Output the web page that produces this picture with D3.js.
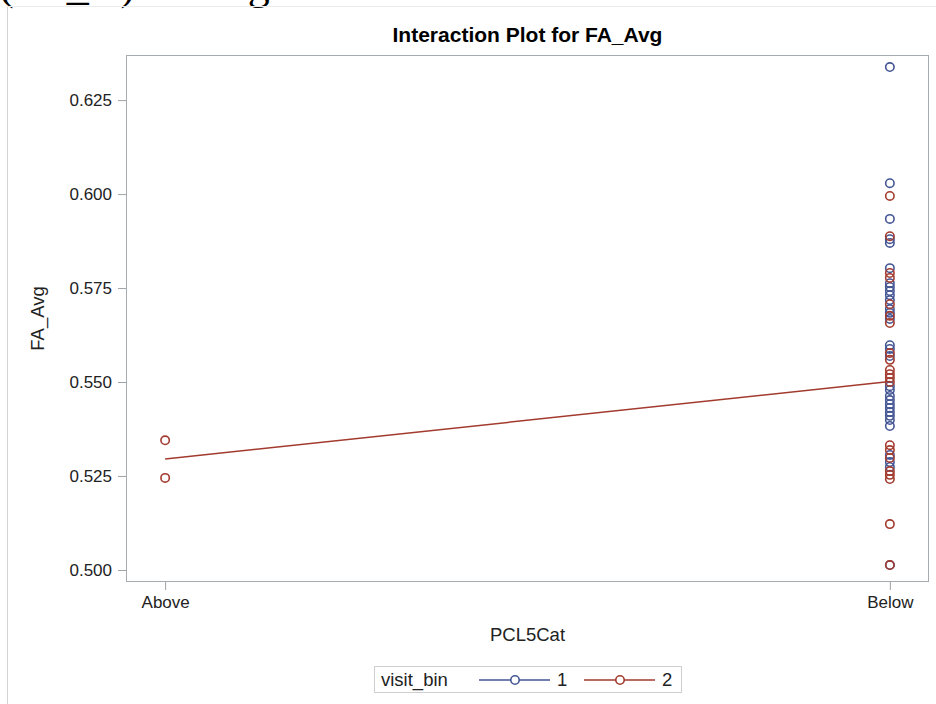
<!DOCTYPE html>
<html>
<head>
<meta charset="utf-8">
<script src="https://cdn.jsdelivr.net/npm/d3@7"></script>
<style>
  body { margin: 0; background: #fff; }
  svg { display: block; font-family: "Liberation Sans", Arial, sans-serif; }
</style>
</head>
<body>
<div id="chart"></div>
<script>
// categories on the x axis
const categories = ["Above", "Below"];
const visitBins = ["1", "2"];

// FA_Avg values per visit_bin, per PCL5Cat
const visit1Above = [];
const visit1Below = [0.6338, 0.6029, 0.5934, 0.5880, 0.5870, 0.5803, 0.5763, 0.5753, 0.5742,
  0.5731, 0.5718, 0.5694, 0.5684, 0.5668, 0.5598, 0.5588, 0.5569, 0.5489, 0.5479, 0.5463,
  0.5452, 0.5441, 0.5431, 0.5420, 0.5410, 0.5399, 0.5383, 0.5306, 0.5287, 0.5274, 0.5013];
const visit2Above = [0.5345, 0.5245];
const visit2Below = [0.5995, 0.5888, 0.5790, 0.5777, 0.5707, 0.5676, 0.5657, 0.5577, 0.5559,
  0.5532, 0.5521, 0.5511, 0.5500, 0.5332, 0.5319, 0.5298, 0.5263, 0.5253, 0.5242, 0.5122, 0.5013];

const yTicks = [0.500, 0.525, 0.550, 0.575, 0.600, 0.625];

const colors = { "1": "#445694", "2": "#a23a2e" };

const series = [
  { bin: visitBins[0], values: { Above: visit1Above, Below: visit1Below } },
  { bin: visitBins[1], values: { Above: visit2Above, Below: visit2Below } }
];

const width = 936,
  height = 704;

// plot wall
const plotLeft = 126, plotRight = 929, plotTop = 55, plotBottom = 582;

const svg = d3.select("#chart")
  .append("svg")
  .attr("width", width)
  .attr("height", height);

// caption line of the page above the figure, mostly cut off by the top edge
svg.append("text")
  .attr("x", -1)
  .attr("y", -1.5)
  .style("font-family", "'Liberation Serif', 'Times New Roman', serif")
  .style("font-size", "44px")
  .style("fill", "#000")
  .text("(FA_A) Average");

// outer figure border
svg.append("line")
  .attr("x1", 7.5).attr("x2", 7.5)
  .attr("y1", 6.5).attr("y2", height)
  .attr("stroke", "#d4d4d4");
svg.append("line")
  .attr("x1", 7.5).attr("x2", width)
  .attr("y1", 6.5).attr("y2", 6.5)
  .attr("stroke", "#ececec");

const x = d3.scalePoint()
  .domain(categories)
  .range([plotLeft, plotRight])
  .padding(0.054);

const y = d3.scaleLinear()
  .domain([0.4968, 0.637])
  .range([plotBottom, plotTop]);

// title
svg.append("text")
  .attr("x", (plotLeft + plotRight) / 2)
  .attr("y", 42)
  .attr("text-anchor", "middle")
  .style("font-size", "21px")
  .style("font-weight", "bold")
  .style("fill", "#000")
  .text("Interaction Plot for FA_Avg");

// axes
const yAxis = svg.append("g")
  .attr("transform", "translate(" + plotLeft + ",0)")
  .call(d3.axisLeft(y).tickValues(yTicks).tickFormat(d3.format(".3f")).tickSize(8).tickPadding(6));

const xAxis = svg.append("g")
  .attr("transform", "translate(0," + plotBottom + ")")
  .call(d3.axisBottom(x).tickSize(8).tickPadding(6));

[yAxis, xAxis].forEach(function (g) {
  g.select(".domain").remove();
  g.selectAll(".tick line").attr("stroke", "#9ea3a8");
  g.selectAll(".tick text")
    .style("font-size", "17px")
    .style("font-family", "'Liberation Sans', Arial, sans-serif")
    .style("fill", "#222");
});

// wall frame
svg.append("rect")
  .attr("x", plotLeft + 0.5)
  .attr("y", plotTop + 0.5)
  .attr("width", plotRight - plotLeft - 1)
  .attr("height", plotBottom - plotTop - 1)
  .attr("fill", "none")
  .attr("stroke", "#a6abb0");

// axis labels
svg.append("text")
  .attr("x", (plotLeft + plotRight) / 2)
  .attr("y", 641)
  .attr("text-anchor", "middle")
  .style("font-size", "18.5px")
  .style("fill", "#222")
  .text("PCL5Cat");

svg.append("text")
  .attr("transform", "translate(44," + (plotTop + plotBottom) / 2 + ") rotate(-90)")
  .attr("text-anchor", "middle")
  .style("font-size", "18.5px")
  .style("fill", "#222")
  .text("FA_Avg");

// mean lines
const line = d3.line()
  .x(function (d) { return x(d.cat); })
  .y(function (d) { return y(d.mean); });

series.forEach(function (s) {
  const means = categories
    .filter(function (c) { return s.values[c].length > 0; })
    .map(function (c) { return { cat: c, mean: d3.mean(s.values[c]) }; });
  if (means.length > 1) {
    svg.append("path")
      .datum(means)
      .attr("d", line)
      .attr("fill", "none")
      .attr("stroke", colors[s.bin])
      .attr("stroke-width", 1.5);
  }
});

// observations
series.forEach(function (s) {
  const pts = [];
  categories.forEach(function (c) {
    s.values[c].forEach(function (v) { pts.push({ cat: c, value: v }); });
  });
  svg.append("g")
    .selectAll("circle")
    .data(pts)
    .enter()
    .append("circle")
    .attr("cx", function (d) { return x(d.cat); })
    .attr("cy", function (d) { return y(d.value); })
    .attr("r", 4.2)
    .attr("fill", "none")
    .attr("stroke", colors[s.bin])
    .attr("stroke-width", 1.6);
});

// legend
const legend = svg.append("g");
legend.append("rect")
  .attr("x", 374.5)
  .attr("y", 666.5)
  .attr("width", 307)
  .attr("height", 26)
  .attr("fill", "#fff")
  .attr("stroke", "#cfcfcf");

legend.append("text")
  .attr("x", 381)
  .attr("y", 686)
  .style("font-size", "18.5px")
  .style("fill", "#222")
  .text("visit_bin");

const legendItems = [{ bin: visitBins[0], x1: 479 }, { bin: visitBins[1], x1: 584 }];
legendItems.forEach(function (d) {
  legend.append("line")
    .attr("x1", d.x1).attr("x2", d.x1 + 71)
    .attr("y1", 680).attr("y2", 680)
    .attr("stroke", colors[d.bin])
    .attr("stroke-width", 1.5);
  legend.append("circle")
    .attr("cx", d.x1 + 36)
    .attr("cy", 680)
    .attr("r", 4.2)
    .attr("fill", "#fff")
    .attr("stroke", colors[d.bin])
    .attr("stroke-width", 1.6);
  legend.append("text")
    .attr("x", d.x1 + 78)
    .attr("y", 686)
    .style("font-size", "18.5px")
    .style("fill", "#222")
    .text(d.bin);
});
</script>
</body>
</html>
